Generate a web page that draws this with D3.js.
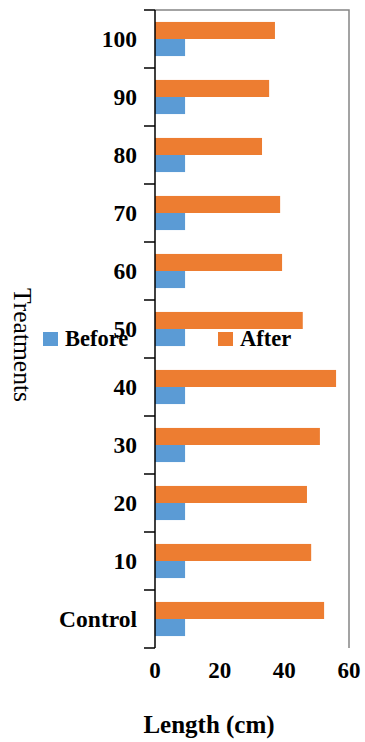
<!DOCTYPE html>
<html>
<head>
<meta charset="utf-8">
<script src="https://cdn.jsdelivr.net/npm/d3@7"></script>
<style>
  html, body { margin: 0; padding: 0; background: #fff; }
  svg { display: block; }
  text { font-family: "Liberation Serif", "Times New Roman", serif; }
</style>
</head>
<body>
<svg id="chart" width="365" height="742"></svg>
<script>
// Treatments, listed top to bottom
const treatments = ["100", "90", "80", "70", "60", "50", "40", "30", "20", "10", "Control"];
// Length (cm) before and after treatment
const before = [9.3, 9.3, 9.3, 9.3, 9.3, 9.3, 9.3, 9.3, 9.3, 9.3, 9.3];
const after  = [37.1, 35.3, 33.1, 38.7, 39.3, 45.7, 56.0, 51.0, 47.0, 48.3, 52.3];
const seriesNames = ["Before", "After"];
const colors = { Before: "#5B9BD5", After: "#ED7D31" };
const xTicks = [0, 20, 40, 60];

const svg = d3.select("#chart");
const plot = { left: 155, right: 349, top: 10, bottom: 648 };

const x = d3.scaleLinear().domain([0, 60]).range([plot.left, plot.right]);
const y = d3.scaleBand().domain(treatments).range([plot.top, plot.bottom]).paddingInner(0).paddingOuter(0);
// After bar sits above Before bar inside each band
const inner = d3.scaleBand().domain(["After", "Before"]).range([0, y.bandwidth()]).paddingOuter(0.7).paddingInner(0);

const rows = treatments.map((t, i) => ({ t, Before: before[i], After: after[i] }));

// plot frame: top and right edges
svg.append("path")
  .attr("d", `M${plot.left},${plot.top}H${plot.right}V${plot.bottom}`)
  .attr("fill", "none").attr("stroke", "#858585").attr("stroke-width", 1.5);

// bars
const g = svg.append("g");
rows.forEach(r => {
  ["After", "Before"].forEach(s => {
    g.append("rect")
      .attr("x", x(0))
      .attr("y", y(r.t) + inner(s))
      .attr("width", x(r[s]) - x(0))
      .attr("height", inner.bandwidth())
      .attr("fill", colors[s]);
  });
});

// category axis with ticks at band boundaries
const yAxisG = svg.append("g");
yAxisG.append("line")
  .attr("x1", plot.left).attr("x2", plot.left)
  .attr("y1", plot.top).attr("y2", plot.bottom)
  .attr("stroke", "#000").attr("stroke-width", 1.5);
const bounds = treatments.map(t => y(t)).concat([plot.bottom]);
yAxisG.selectAll("line.tick").data(bounds).join("line")
  .attr("class", "tick")
  .attr("x1", plot.left - 11).attr("x2", plot.left)
  .attr("y1", d => d).attr("y2", d => d)
  .attr("stroke", "#000").attr("stroke-width", 1.5);
yAxisG.selectAll("text").data(treatments).join("text")
  .attr("x", plot.left - 18)
  .attr("y", d => y(d) + y.bandwidth() / 2)
  .attr("dy", "0.35em")
  .attr("text-anchor", "end")
  .attr("font-weight", "bold")
  .attr("font-size", 23.5)
  .text(d => d);

// value axis labels
svg.append("g").selectAll("text").data(xTicks).join("text")
  .attr("x", d => x(d))
  .attr("y", 678)
  .attr("text-anchor", "middle")
  .attr("font-weight", "bold")
  .attr("font-size", 23)
  .text(d => d);

// axis titles
svg.append("text")
  .attr("x", 209).attr("y", 733)
  .attr("text-anchor", "middle")
  .attr("font-weight", "bold")
  .attr("font-size", 25)
  .text("Length (cm)");

svg.append("text")
  .attr("transform", "translate(14,345) rotate(90)")
  .attr("text-anchor", "middle")
  .attr("font-size", 25.5)
  .text("Treatments");

// legend
const legendPos = { Before: 43, After: 218 };
seriesNames.forEach(s => {
  const lg = svg.append("g").attr("transform", `translate(${legendPos[s]},332)`);
  lg.append("rect").attr("width", 15).attr("height", 14).attr("fill", colors[s]);
  lg.append("text")
    .attr("x", 22).attr("y", 14)
    .attr("font-weight", "bold")
    .attr("font-size", 22.5)
    .text(s);
});
</script>
</body>
</html>
